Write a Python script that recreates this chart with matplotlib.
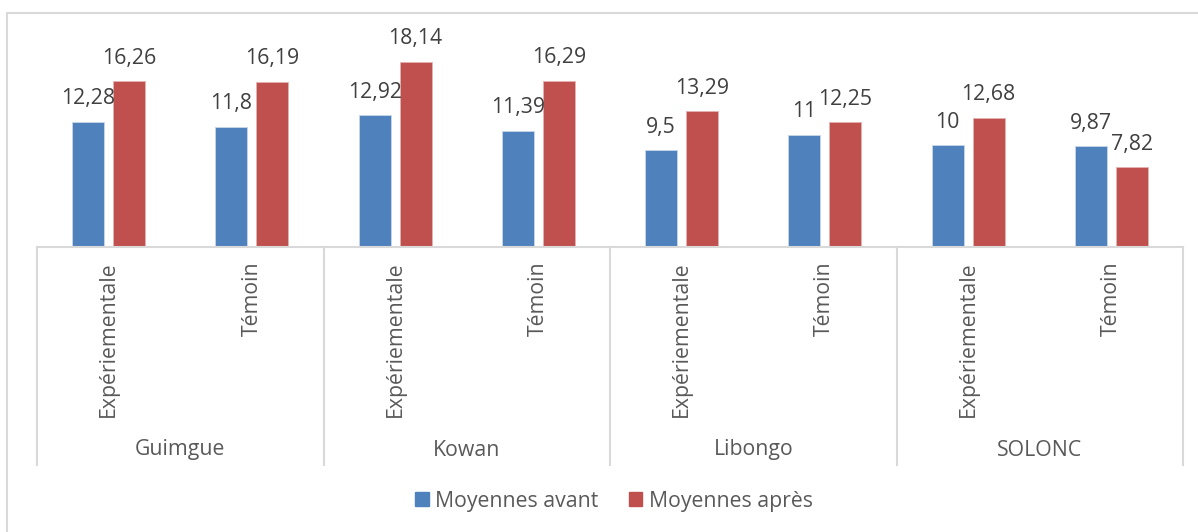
import matplotlib
matplotlib.use("Agg")
import matplotlib.pyplot as plt
from matplotlib.patches import Rectangle
from matplotlib.lines import Line2D

plt.rcParams['font.family'] = ['Open Sans', 'DejaVu Sans']

groups = ["Guimgue", "Kowan", "Libongo", "SOLONC"]
subcats = ["Expériementale", "Témoin"]
avant = [12.28, 11.8, 12.92, 11.39, 9.5, 11, 10, 9.87]
apres = [16.26, 16.19, 18.14, 16.29, 13.29, 12.25, 12.68, 7.82]
avant_lbl = ["12,28", "11,8", "12,92", "11,39", "9,5", "11", "10", "9,87"]
apres_lbl = ["16,26", "16,19", "18,14", "16,29", "13,29", "12,25", "12,68", "7,82"]
series_names = ["Moyennes avant", "Moyennes après"]
colors = ["#4F81BD", "#C0504D"]

W, H = 1198, 532
fig = plt.figure(figsize=(W / 100, H / 100), dpi=100)

# pixel geometry
x0, x1 = 37, 1183
ybase, ytop = 247, 43
ax = fig.add_axes([x0 / W, (H - ybase) / H, (x1 - x0) / W, (ybase - ytop) / H])
ax.set_xlim(0, 8)
ax.set_ylim(0, 20)
ax.axis('off')

n = len(avant)
off = 0.143
bw = 0.223
xs = [i + 0.5 for i in range(n)]
ax.bar([x - off for x in xs], avant, width=bw, color=colors[0], edgecolor='#c8d6ea', linewidth=0.6)
ax.bar([x + off for x in xs], apres, width=bw, color=colors[1], edgecolor='#e3b3b2', linewidth=0.6)

lblcol = '#404040'
fs = 15.3
for i in range(n):
    ax.annotate(avant_lbl[i], (xs[i] - off, avant[i]), xytext=(0, 9), textcoords='offset points',
                ha='center', va='bottom', fontsize=fs, color=lblcol)
    ax.annotate(apres_lbl[i], (xs[i] + off, apres[i]), xytext=(0, 9), textcoords='offset points',
                ha='center', va='bottom', fontsize=fs, color=lblcol)

ppu = (ybase - ytop)  # pixels per axes unit
def yax(py):
    return (ybase - py) / ppu

grid = '#d9d9d9'
# baseline
ax.add_line(Line2D([0, 8], [0, 0], color=grid, lw=1.5, clip_on=False))
# group separators
for g in range(len(groups) + 1):
    ax.add_line(Line2D([2 * g, 2 * g], [0, yax(465) * 20], color=grid, lw=1.5, clip_on=False))

axcol = '#595959'
for i in range(n):
    ax.text(xs[i], yax(261) * 20, subcats[i % 2], rotation=90, ha='center', va='top',
            fontsize=fs, color=axcol)
for g, name in enumerate(groups):
    ax.text(2 * g + 1, yax(450) * 20, name, ha='center', va='center', fontsize=fs, color=axcol)

# outer chart border
fig.add_artist(Rectangle((7 / W, -0.01), 1.1, (H - 13) / H + 0.01, transform=fig.transFigure,
                         fill=False, edgecolor=grid, lw=1.5))

# legend
handles = [Rectangle((0, 0), 1, 1, color=c) for c in colors]
fig.legend(handles, series_names, loc='center', bbox_to_anchor=(614 / W, 1 - 501 / H), ncol=2,
           frameon=False, fontsize=fs, labelcolor=axcol, handlelength=0.65, handleheight=0.65,
           handletextpad=0.3, columnspacing=1.4)

fig.savefig("out.png", dpi=100)
